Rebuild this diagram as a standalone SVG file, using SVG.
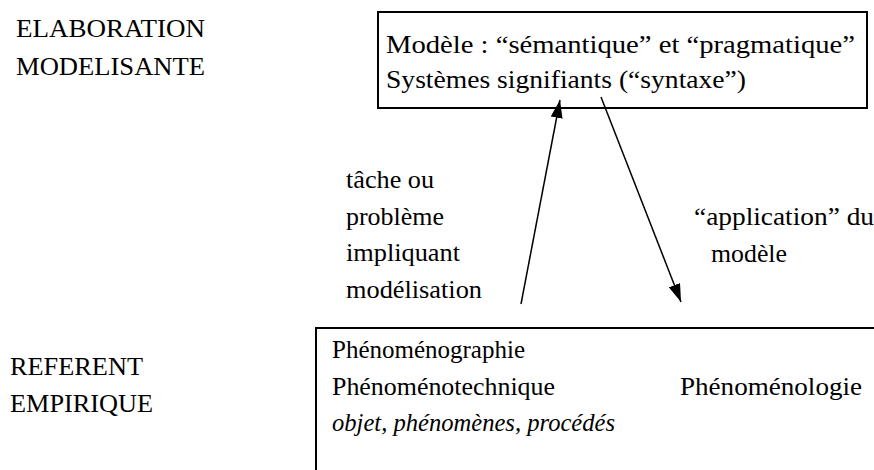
<svg xmlns="http://www.w3.org/2000/svg" width="874" height="470" viewBox="0 0 874 470">
<style>
  text { font-family: "Liberation Serif", "DejaVu Serif", serif; font-size: 25px; fill: #000; }
  .it { font-style: italic; }
  .box { fill: #fff; stroke: #000; stroke-width: 2; }
  .conn { stroke: #000; stroke-width: 1.5; fill: none; }
</style>
<defs>
  <marker id="ah" viewBox="0 0 18 12" refX="18" refY="6" markerWidth="18" markerHeight="12" markerUnits="userSpaceOnUse" orient="auto">
    <path d="M0,0 L18,6 L0,12 z" fill="#000"/>
  </marker>
</defs>
<rect width="874" height="470" fill="#fff"/>
<g id="label-elaboration" font-family="Liberation Serif, DejaVu Serif, serif">
  <text x="16" y="37" textLength="189" lengthAdjust="spacingAndGlyphs">ELABORATION</text>
  <text x="16" y="75" textLength="189" lengthAdjust="spacingAndGlyphs">MODELISANTE</text>
</g>
<g id="label-referent" font-family="Liberation Serif, DejaVu Serif, serif">
  <text x="10" y="375" textLength="133" lengthAdjust="spacingAndGlyphs">REFERENT</text>
  <text x="10" y="412" textLength="143" lengthAdjust="spacingAndGlyphs">EMPIRIQUE</text>
</g>
<g id="node-modele" font-family="Liberation Serif, DejaVu Serif, serif">
  <rect class="box" x="378" y="12" width="489" height="96"/>
  <text x="386" y="53" textLength="469" lengthAdjust="spacingAndGlyphs">Modèle : “sémantique” et “pragmatique”</text>
  <text x="386" y="88" textLength="360" lengthAdjust="spacingAndGlyphs">Systèmes signifiants (“syntaxe”)</text>
</g>
<g id="node-referent" font-family="Liberation Serif, DejaVu Serif, serif">
  <rect class="box" x="316" y="328" width="600" height="200"/>
  <text x="332" y="358" textLength="193" lengthAdjust="spacingAndGlyphs">Phénoménographie</text>
  <text x="332" y="395" textLength="223" lengthAdjust="spacingAndGlyphs">Phénoménotechnique</text>
  <text x="680" y="395" textLength="182" lengthAdjust="spacingAndGlyphs">Phénoménologie</text>
  <text class="it" x="332" y="431" textLength="283" lengthAdjust="spacingAndGlyphs">objet, phénomènes, procédés</text>
</g>
<g id="label-tache" font-family="Liberation Serif, DejaVu Serif, serif">
  <text x="346" y="188" textLength="88" lengthAdjust="spacingAndGlyphs">tâche ou</text>
  <text x="346" y="225" textLength="98" lengthAdjust="spacingAndGlyphs">problème</text>
  <text x="346" y="261" textLength="114" lengthAdjust="spacingAndGlyphs">impliquant</text>
  <text x="346" y="298" textLength="136" lengthAdjust="spacingAndGlyphs">modélisation</text>
</g>
<g id="label-application" font-family="Liberation Serif, DejaVu Serif, serif">
  <text x="694" y="225" textLength="180" lengthAdjust="spacingAndGlyphs">“application” du</text>
  <text x="711" y="262" textLength="76" lengthAdjust="spacingAndGlyphs">modèle</text>
</g>
<g id="connectors">
  <line class="conn" x1="521" y1="304" x2="560" y2="100" marker-end="url(#ah)"/>
  <line class="conn" x1="601" y1="97" x2="681" y2="302" marker-end="url(#ah)"/>
</g>
</svg>
